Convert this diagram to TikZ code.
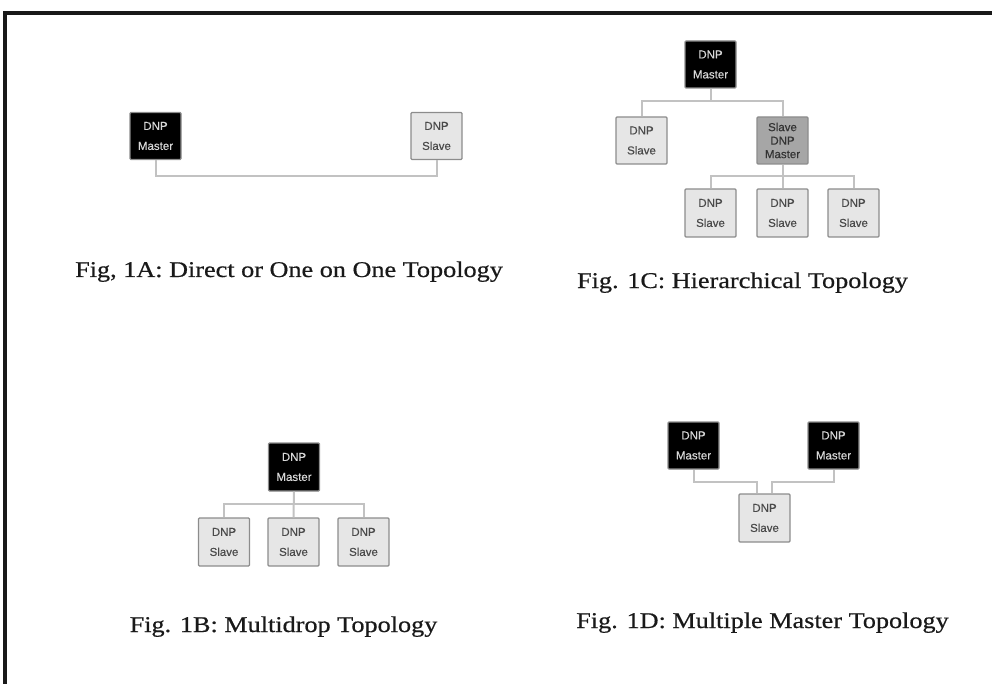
\documentclass[tikz,border=0pt]{standalone}
\usepackage{fontspec}
\setmainfont{Liberation Serif}
\newfontfamily\capfont[FakeStretch=1.165,FakeBold=0.6]{Liberation Serif}
\newfontfamily\boxfont[FakeBold=0.4]{Liberation Sans}
\definecolor{slavefill}{HTML}{E6E6E6}
\definecolor{boxborder}{HTML}{8C8C8C}
\definecolor{wire}{HTML}{C2C2C2}
\definecolor{midfill}{HTML}{A6A6A6}
\definecolor{slavetext}{HTML}{4A4A4A}
\definecolor{mastertext}{HTML}{D8D8D8}
\tikzset{
  devbox/.style={draw=boxborder, line width=1.3pt, rounded corners=1pt, minimum width=51pt, minimum height=47pt, inner sep=0pt, align=center, font=\boxfont\fontsize{11.5}{20}\selectfont},
  masterbox/.style={devbox, fill=black, text=mastertext},
  slavebox/.style={devbox, fill=slavefill, text=slavetext},
  midbox/.style={devbox, fill=midfill, text=black!80, font=\boxfont\fontsize{11.5}{13.5}\selectfont},
  wireline/.style={draw=wire, line width=2pt},
  caption/.style={anchor=base, inner sep=0pt, text=black!90, font=\capfont\fontsize{22.5}{26}\selectfont},
  frameline/.style={line width=3.2pt, black!90}
}
\begin{document}
\begin{tikzpicture}[x=1pt, y=-1pt]
\useasboundingbox (0,0) rectangle (992,684);
% frame
\coordinate (fTR) at (992,13);
\coordinate (fTL) at (5,13);
\coordinate (fBL) at (5,684);
\draw[frameline] (fTR) -- (fTL) -- (fBL);

% ---- Fig 1A
\node[masterbox] (aM) at (155.5,136) {DNP\\Master};
\node[slavebox] (aS) at (436.5,136) {DNP\\Slave};
\coordinate (aBus) at (0,176);
\draw[wireline] (aM.south) |- (aS.south |- aBus) -- (aS.south);
\node[caption] (aCap) at (289,277) {Fig, 1A: Direct or One on One Topology};

% ---- Fig 1C
\node[masterbox] (cM) at (710.5,64.5) {DNP\\Master};
\node[slavebox] (cS) at (641.5,140.5) {DNP\\Slave};
\node[midbox] (cG) at (782.5,140.5) {Slave\\DNP\\Master};
\node[slavebox, minimum height=48pt] (cS1) at (710.5,213) {DNP\\Slave};
\node[slavebox, minimum height=48pt] (cS2) at (782.5,213) {DNP\\Slave};
\node[slavebox, minimum height=48pt] (cS3) at (853.5,213) {DNP\\Slave};
\coordinate (cBus1) at (0,101);
\coordinate (cBus2) at (0,176);
\draw[wireline] (cS.north) |- (cG.north |- cBus1) -- (cG.north);
\draw[wireline] (cM.south) -- (cM.south |- cBus1);
\draw[wireline] (cS1.north) |- (cS3.north |- cBus2) -- (cS3.north);
\draw[wireline] (cG.south) -- (cS2.north);
\node[caption] (cCap) at (742.5,288) {Fig. 1C: Hierarchical Topology};

% ---- Fig 1B
\node[masterbox, minimum height=48pt] (bM) at (294,467) {DNP\\Master};
\node[slavebox, minimum height=48pt] (bS1) at (224,542) {DNP\\Slave};
\node[slavebox, minimum height=48pt] (bS2) at (293.5,542) {DNP\\Slave};
\node[slavebox, minimum height=48pt] (bS3) at (363.5,542) {DNP\\Slave};
\coordinate (bBus) at (0,504);
\draw[wireline] (bS1.north) |- (bS3.north |- bBus) -- (bS3.north);
\draw[wireline] (bM.south) -- (bS2.north);
\node[caption] (bCap) at (283.5,632) {Fig. 1B: Multidrop Topology};

% ---- Fig 1D
\node[masterbox] (dM1) at (693.5,445.5) {DNP\\Master};
\node[masterbox] (dM2) at (833.5,445.5) {DNP\\Master};
\node[slavebox, minimum height=48pt] (dS) at (764.5,518) {DNP\\Slave};
\coordinate (dBus) at (0,482);
\coordinate (dInL) at ([xshift=-7.5pt]dS.north);
\coordinate (dInR) at ([xshift=7.5pt]dS.north);
\draw[wireline] (dM1.south) |- (dInL |- dBus) -- (dInL);
\draw[wireline] (dM2.south) |- (dInR |- dBus) -- (dInR);
\node[caption] (dCap) at (762.5,628) {Fig. 1D: Multiple Master Topology};
\end{tikzpicture}
\end{document}
